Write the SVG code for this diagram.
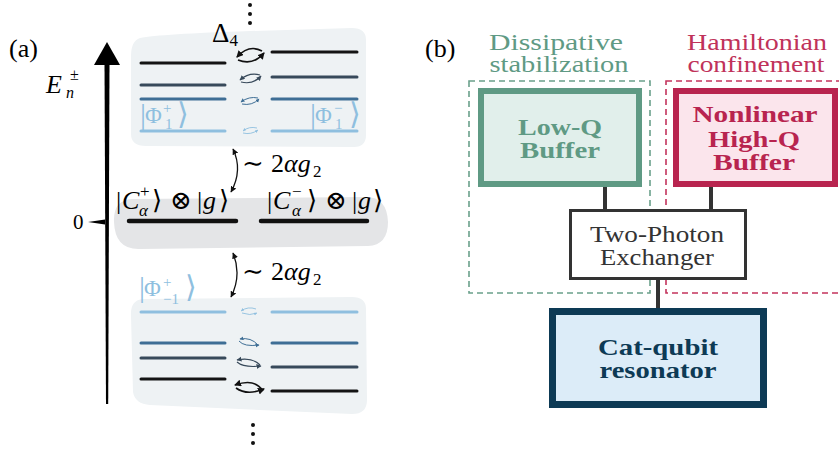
<svg xmlns="http://www.w3.org/2000/svg" width="839" height="451" viewBox="0 0 839 451" font-family="'Liberation Serif', 'Times New Roman', Times, 'DejaVu Serif', serif">
<style>
text{font-family:'Liberation Serif','Times New Roman',Times,'DejaVu Serif',serif;}
.it{font-style:italic;}
.lvK{stroke:#141414;stroke-width:3;stroke-linecap:round;}
.lvS{stroke:#37495a;stroke-width:3;stroke-linecap:round;}
.lvB{stroke:#3e6e95;stroke-width:3;stroke-linecap:round;}
.lvL{stroke:#8fbfdf;stroke-width:3;stroke-linecap:round;}
.gnd{stroke:#111;stroke-width:4.5;stroke-linecap:round;}
.aK{fill:none;stroke:#111;stroke-width:1.6;marker-end:url(#hK);}
.aS{fill:none;stroke:#37495a;stroke-width:1.2;marker-end:url(#hS);}
.aB{fill:none;stroke:#3e6e95;stroke-width:1;marker-end:url(#hB);}
.aL{fill:none;stroke:#8fbfdf;stroke-width:0.9;marker-end:url(#hL);}
.cpl{fill:none;stroke:#111;stroke-width:1.3;marker-start:url(#hC);marker-end:url(#hC);}
.blob{fill:#eef2f4;}
.phi{fill:#8fbfdf;}
.conn{stroke:#333;stroke-width:4;}
.dash{fill:none;stroke-width:1.6;stroke-dasharray:6 4;}
.lbl{font-size:23px;text-anchor:middle;}
.bold{font-weight:bold;font-size:24px;text-anchor:middle;}
</style>
<defs>
<marker id="hK" markerUnits="userSpaceOnUse" markerWidth="9" markerHeight="8" refX="6" refY="3.5" orient="auto"><path d="M0,0 L7,3.5 L0,7 z" fill="#111"/></marker>
<marker id="hS" markerUnits="userSpaceOnUse" markerWidth="7" markerHeight="6" refX="4.5" refY="2.5" orient="auto"><path d="M0,0 L5,2.5 L0,5 z" fill="#37495a"/></marker>
<marker id="hB" markerUnits="userSpaceOnUse" markerWidth="6" markerHeight="5" refX="3.5" refY="2" orient="auto"><path d="M0,0 L4,2 L0,4 z" fill="#3e6e95"/></marker>
<marker id="hL" markerUnits="userSpaceOnUse" markerWidth="5" markerHeight="4" refX="3" refY="1.5" orient="auto"><path d="M0,0 L3,1.5 L0,3 z" fill="#8fbfdf"/></marker>
<marker id="hC" markerUnits="userSpaceOnUse" markerWidth="7" markerHeight="6" refX="5.5" refY="3" orient="auto-start-reverse"><path d="M0,0 L6,3 L0,6 z" fill="#111"/></marker>
</defs>

<!-- Panel (a) -->
<g id="panel-a">
<text x="9" y="57" font-size="26">(a)</text>
<g id="axis">
<polygon points="107,42 120,65 94,65" fill="#000"/>
<polygon points="104.5,64 109.5,64 108.2,404 106,404" fill="#000"/>
<polygon points="88,222 105,219.5 105,224.5" fill="#000"/>
<text x="73" y="229" font-size="21">0</text>
<text font-size="26"><tspan x="46" y="93" class="it">E</tspan><tspan x="70" y="80" font-size="16">±</tspan><tspan x="66" y="98" font-size="16" class="it">n</tspan></text>
</g>

<g id="dots-top" fill="#111"><circle cx="250" cy="5" r="2"/><circle cx="250" cy="14" r="2"/><circle cx="250" cy="23" r="2"/></g>
<g id="dots-bottom" fill="#111"><circle cx="253" cy="425" r="2"/><circle cx="253" cy="434" r="2"/><circle cx="253" cy="443" r="2"/></g>

<g id="block-top">
<path class="blob" d="M140,38 Q131,41 131,56 L131,134 Q131,146 146,146 L354,147 Q366,147 366,135 L366,40 Q366,28 352,28 L250,31 Q160,34 140,38 Z"/>
<line class="lvK" x1="141" y1="63" x2="225" y2="63"/>
<line class="lvS" x1="141" y1="85" x2="225" y2="85"/>
<line class="lvB" x1="141" y1="99" x2="225" y2="99"/>
<line class="lvL" x1="141" y1="131" x2="225" y2="131"/>
<line class="lvK" x1="272" y1="52" x2="357" y2="52"/>
<line class="lvS" x1="272" y1="77" x2="357" y2="77"/>
<line class="lvB" x1="272" y1="99" x2="357" y2="99"/>
<line class="lvL" x1="272" y1="131" x2="357" y2="131"/>
<path class="aK" d="M262,51 Q249,44 237,57"/>
<path class="aK" d="M238,60 Q253,66 264,53"/>
<path class="aS" d="M260,75 Q249,72 240,80"/>
<path class="aS" d="M241,82 Q253,85 261,76"/>
<path class="aB" d="M258,98 Q249,96 241,102"/>
<path class="aB" d="M242,104 Q252,106 259,99"/>
<path class="aL" d="M257,128 Q249,126 243,131"/>
<path class="aL" d="M243,133 Q251,135 258,130"/>
<text x="212" y="42" font-size="27">Δ<tspan font-size="17" dy="4">4</tspan></text>
<text class="phi" font-size="23"><tspan x="140" y="124" font-size="30">|</tspan><tspan x="145" y="123">Φ</tspan><tspan x="163" y="113" font-size="15">+</tspan><tspan x="165" y="129" font-size="15">1</tspan><tspan x="177" y="124" font-size="30">⟩</tspan></text>
<text class="phi" font-size="23"><tspan x="310" y="124" font-size="30">|</tspan><tspan x="315" y="123">Φ</tspan><tspan x="334" y="113" font-size="15">−</tspan><tspan x="335" y="129" font-size="15">1</tspan><tspan x="349" y="124" font-size="30">⟩</tspan></text>
</g>

<g id="block-ground">
<path d="M132,199 Q113,200 114,222 Q115,250 140,249 L368,246 Q388,245 388,222 Q387,197 366,197 Z" fill="#e4e5e7"/>
<line class="gnd" x1="129" y1="221" x2="236" y2="221"/>
<line class="gnd" x1="261" y1="221" x2="367" y2="221"/>
<text font-size="26"><tspan x="116" y="209">|</tspan><tspan x="122" y="209" class="it">C</tspan><tspan x="140" y="197" font-size="17">+</tspan><tspan x="139" y="216" font-size="17" class="it">α</tspan><tspan x="152" y="209">⟩</tspan><tspan x="170" y="209">⊗</tspan><tspan x="197" y="209">|</tspan><tspan x="203" y="209" class="it">g</tspan><tspan x="219" y="209">⟩</tspan></text>
<text font-size="26"><tspan x="267" y="209">|</tspan><tspan x="273" y="209" class="it">C</tspan><tspan x="292" y="197" font-size="17">−</tspan><tspan x="292" y="216" font-size="17" class="it">α</tspan><tspan x="307" y="209">⟩</tspan><tspan x="325" y="209">⊗</tspan><tspan x="352" y="209">|</tspan><tspan x="358" y="209" class="it">g</tspan><tspan x="373" y="209">⟩</tspan></text>
</g>

<g id="block-bottom">
<path class="blob" d="M142,299 Q130,301 131,316 L133,392 Q135,404 150,405 L352,414 Q367,414 367,400 L366,309 Q366,297 352,297 Z"/>
<line class="lvL" x1="141" y1="312" x2="225" y2="312"/>
<line class="lvB" x1="141" y1="343" x2="225" y2="343"/>
<line class="lvS" x1="141" y1="358" x2="225" y2="358"/>
<line class="lvK" x1="141" y1="379" x2="225" y2="379"/>
<line class="lvL" x1="272" y1="312" x2="357" y2="312"/>
<line class="lvB" x1="272" y1="343" x2="357" y2="343"/>
<line class="lvS" x1="272" y1="367" x2="357" y2="367"/>
<line class="lvK" x1="272" y1="391" x2="357" y2="391"/>
<path class="aL" d="M256,309 Q248,306 241,311"/>
<path class="aL" d="M242,313 Q250,316 257,313"/>
<path class="aB" d="M258,345 Q251,337 240,339"/>
<path class="aB" d="M239,341 Q244,347 259,345"/>
<path class="aS" d="M260,365 Q252,357 237,360"/>
<path class="aS" d="M237,362 Q244,368 261,366"/>
<path class="aK" d="M263,391 Q255,378 235,385"/>
<path class="aK" d="M236,388 Q247,396 264,389"/>
<text class="phi" font-size="23"><tspan x="139" y="297" font-size="30">|</tspan><tspan x="144" y="296">Φ</tspan><tspan x="163" y="287" font-size="15">+</tspan><tspan x="163" y="304" font-size="15">−1</tspan><tspan x="185" y="297" font-size="30">⟩</tspan></text>
</g>

<g id="couplings">
<path class="cpl" d="M233,149 Q243,170 231,192"/>
<text font-size="26"><tspan x="242" y="172">∼</tspan><tspan x="271" y="172">2</tspan><tspan x="284" y="172" class="it">αg</tspan><tspan x="313" y="177" font-size="17">2</tspan></text>
<path class="cpl" d="M233,253 Q242,275 231,297"/>
<text font-size="26"><tspan x="242" y="280">∼</tspan><tspan x="271" y="280">2</tspan><tspan x="284" y="280" class="it">αg</tspan><tspan x="313" y="285" font-size="17">2</tspan></text>
</g>
</g>

<!-- Panel (b) -->
<text x="425" y="57" font-size="26">(b)</text>
<g id="group-dissipative">
<rect class="dash" x="469" y="81" width="181" height="212" stroke="#6aa08b"/>
<text class="lbl" x="556" y="50" fill="#5f9a84" textLength="134" lengthAdjust="spacingAndGlyphs">Dissipative</text>
<text class="lbl" x="559" y="72" fill="#5f9a84" textLength="139" lengthAdjust="spacingAndGlyphs">stabilization</text>
</g>
<g id="group-hamiltonian">
<rect class="dash" x="666" y="81" width="190" height="212" stroke="#c3335c"/>
<text class="lbl" x="757" y="50" fill="#c0325a" textLength="140" lengthAdjust="spacingAndGlyphs">Hamiltonian</text>
<text class="lbl" x="756" y="72" fill="#c0325a" textLength="137" lengthAdjust="spacingAndGlyphs">confinement</text>
</g>

<g id="connectors">
<line class="conn" x1="605" y1="186" x2="605" y2="211"/>
<line class="conn" x1="711" y1="186" x2="711" y2="211"/>
<line class="conn" x1="658" y1="278" x2="658" y2="310"/>
</g>

<g id="node-lowq">
<rect x="481" y="91" width="158" height="93" fill="#e1efeb" stroke="#5f9a84" stroke-width="6"/>
<text class="bold" x="560" y="135" fill="#5f9a84" textLength="84" lengthAdjust="spacingAndGlyphs">Low-Q</text>
<text class="bold" x="560" y="158" fill="#5f9a84" textLength="80" lengthAdjust="spacingAndGlyphs">Buffer</text>
</g>
<g id="node-highq">
<rect x="676" y="91" width="159" height="93" fill="#fbe5ec" stroke="#b8244f" stroke-width="6"/>
<text class="bold" x="755" y="122" fill="#b8244f" textLength="125" lengthAdjust="spacingAndGlyphs">Nonlinear</text>
<text class="bold" x="754" y="147" fill="#b8244f" textLength="92" lengthAdjust="spacingAndGlyphs">High-Q</text>
<text class="bold" x="754" y="170" fill="#b8244f" textLength="82" lengthAdjust="spacingAndGlyphs">Buffer</text>
</g>
<g id="node-exchanger">
<rect x="570.5" y="210.5" width="175" height="68" fill="#fff" stroke="#333" stroke-width="3"/>
<text class="lbl" x="657" y="242" fill="#333" font-size="24" textLength="134" lengthAdjust="spacingAndGlyphs">Two-Photon</text>
<text class="lbl" x="657" y="265" fill="#333" font-size="24" textLength="114" lengthAdjust="spacingAndGlyphs">Exchanger</text>
</g>
<g id="node-cat">
<rect x="552.5" y="311.5" width="211" height="93" fill="#dcecf8" stroke="#0d3a55" stroke-width="7"/>
<text class="bold" x="658" y="355" fill="#0d3a55" textLength="120" lengthAdjust="spacingAndGlyphs">Cat-qubit</text>
<text class="bold" x="658" y="378" fill="#0d3a55" textLength="117" lengthAdjust="spacingAndGlyphs">resonator</text>
</g>
</svg>
